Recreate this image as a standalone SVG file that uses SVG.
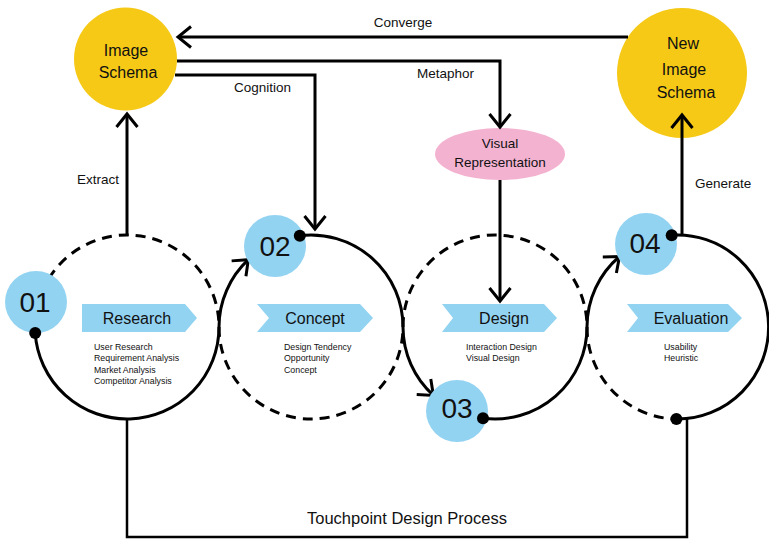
<svg xmlns="http://www.w3.org/2000/svg" width="769" height="540" viewBox="0 0 769 540">
<style>
text{font-family:"Liberation Sans",Arial,sans-serif;fill:#111}
.solid{fill:none;stroke:#000;stroke-width:3}
.dash{fill:none;stroke:#000;stroke-width:3;stroke-dasharray:10 7}
.conn{fill:none;stroke:#000;stroke-width:3}
.box{fill:none;stroke:#000;stroke-width:2.5}
.num{fill:#93D3F2}
.dot{fill:#000}
.ban{fill:#93D3F2}
.yel{fill:#F5C916}
.pink{fill:#F4B2D1}
.lbl{font-size:13.5px}
.bt{font-size:16px;text-anchor:middle}
.sm{font-size:8.8px}
.nn{font-size:28px;text-anchor:middle}
.nd{font-size:16px;text-anchor:middle}
</style>
<defs>
<marker id="ah" markerUnits="userSpaceOnUse" markerWidth="30" markerHeight="30" viewBox="-16 -15 20 30" refX="0" refY="0" orient="auto">
<path d="M-13,-10.5 L0,0 L-13,10.5" fill="none" stroke="#000" stroke-width="3"/>
</marker>
</defs>

<g id="image-schema">
<circle class="yel" cx="125.5" cy="59" r="51.5"/>
<text class="nd" x="126" y="56">Image</text>
<text class="nd" x="128" y="78">Schema</text>
</g>

<g id="new-image-schema">
<circle class="yel" cx="682" cy="73" r="65"/>
<text class="nd" x="683" y="49">New</text>
<text class="nd" x="684" y="75">Image</text>
<text class="nd" x="686" y="98">Schema</text>
</g>

<g id="visual-representation">
<ellipse class="pink" cx="500" cy="154" rx="65" ry="26"/>
<text x="500" y="148" style="font-size:13.5px" text-anchor="middle">Visual</text>
<text x="500" y="167" style="font-size:13.5px" text-anchor="middle">Representation</text>
</g>

<g id="connectors">
<path class="conn" d="M127,236 V114" marker-end="url(#ah)"/>
<path class="conn" d="M628,37 H178" marker-end="url(#ah)"/>
<path class="conn" d="M177,61 H500 V127" marker-end="url(#ah)"/>
<path class="conn" d="M175,75 H315 V229" marker-end="url(#ah)"/>
<path class="conn" d="M500,180 V301" marker-end="url(#ah)"/>
<path class="conn" d="M682,236 V115" marker-end="url(#ah)"/>
<path class="box" d="M127,419 V537 H687 V419"/>
<text class="lbl" x="77" y="184">Extract</text>
<text class="lbl" x="403" y="27" text-anchor="middle">Converge</text>
<text class="lbl" x="417" y="78">Metaphor</text>
<text class="lbl" x="234" y="92">Cognition</text>
<text class="lbl" x="695" y="188">Generate</text>
<text x="407" y="524" style="font-size:16.5px" text-anchor="middle">Touchpoint Design Process</text>
</g>

<g id="cycle-arcs">
<path class="dash" d="M35,327 A92,92 0 0 1 219,327"/>
<path class="dash" d="M219,327 A92,92 0 0 0 403,327"/>
<path class="dash" d="M403,327 A92,92 0 0 1 587,327"/>
<path class="dash" d="M587,327 A91,92 0 0 0 676.4,419"/>
<path class="solid" d="M35.2,333 A92,92 0 0 0 219,327 A92,92 0 0 1 248.3,259.7" marker-end="url(#ah)"/>
<path class="solid" d="M299.8,235.7 A92,92 0 0 1 403,327 A92,92 0 0 0 433.4,395.4" marker-end="url(#ah)"/>
<path class="solid" d="M483,418.2 A92,92 0 0 0 587,327 A91,92 0 0 1 619.5,256.5" marker-end="url(#ah)"/>
<path class="solid" d="M671.7,235.2 A91,92 0 1 1 676.4,419"/>
</g>

<g id="step-01">
<circle class="num" cx="36" cy="302" r="31"/>
<text class="nn" x="35" y="312">01</text>
<circle class="dot" cx="35.2" cy="333" r="6"/>
<polygon class="ban" points="82,304 185,304 197,318 185,332 82,332"/>
<text class="bt" x="137" y="324">Research</text>
<text class="sm" x="94" y="349.5">User Research</text>
<text class="sm" x="94" y="361">Requirement Analysis</text>
<text class="sm" x="94" y="372.5">Market Analysis</text>
<text class="sm" x="94" y="384">Competitor Analysis</text>
</g>

<g id="step-02">
<circle class="num" cx="275" cy="246" r="31"/>
<text class="nn" x="275" y="256">02</text>
<circle class="dot" cx="299.8" cy="235.7" r="6"/>
<polygon class="ban" points="257,304 360,304 373,318 360,332 257,332 269,318"/>
<text class="bt" x="315" y="324">Concept</text>
<text class="sm" x="284" y="349.5">Design Tendency</text>
<text class="sm" x="284" y="361">Opportunity</text>
<text class="sm" x="284" y="372.5">Concept</text>
</g>

<g id="step-03">
<circle class="num" cx="457" cy="411" r="31"/>
<text class="nn" x="457" y="418">03</text>
<circle class="dot" cx="483" cy="418.2" r="6"/>
<polygon class="ban" points="442,304 544,304 557,318 544,332 442,332 453,318"/>
<text class="bt" x="504" y="324">Design</text>
<text class="sm" x="466" y="349.5">Interaction Design</text>
<text class="sm" x="466" y="361">Visual Design</text>
</g>

<g id="step-04">
<circle class="num" cx="646" cy="244" r="31"/>
<text class="nn" x="645" y="253">04</text>
<circle class="dot" cx="671.7" cy="235.2" r="6"/>
<circle class="dot" cx="676.4" cy="419" r="6"/>
<polygon class="ban" points="627,304 728,304 742,318 728,332 627,332 638,318"/>
<text class="bt" x="691" y="324">Evaluation</text>
<text class="sm" x="664" y="349.5">Usability</text>
<text class="sm" x="664" y="361">Heuristic</text>
</g>
</svg>
